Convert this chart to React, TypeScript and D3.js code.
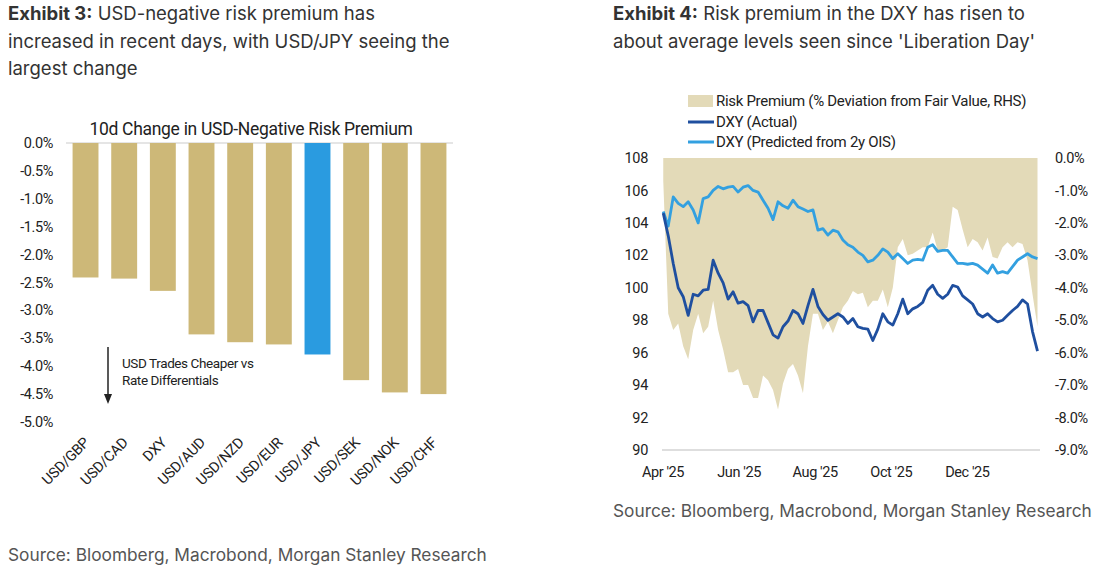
import React from 'react';
import * as d3 from 'd3';

// ---- Exhibit 3 data ----
const pairs = ['USD/GBP', 'USD/CAD', 'DXY', 'USD/AUD', 'USD/NZD', 'USD/EUR', 'USD/JPY', 'USD/SEK', 'USD/NOK', 'USD/CHF'];
const change10d = [-2.41, -2.43, -2.65, -3.43, -3.57, -3.61, -3.79, -4.25, -4.47, -4.5];
const highlightPair = 'USD/JPY';
const pctTicks = [0, -0.5, -1, -1.5, -2, -2.5, -3, -3.5, -4, -4.5, -5];

// ---- Exhibit 4 data (one reading every 4 days from 2 Apr 2025) ----
const seriesStart = new Date(2025, 3, 2);
const stepDays = 4;
const dxyActual = [
  104.6, 103.2, 101.5, 100.0, 99.45, 98.3, 99.6, 99.5, 99.85, 99.9,
  101.7, 100.9, 100.3, 99.3, 99.75, 99.05, 99.15, 98.9, 97.9, 98.6,
  98.6, 97.85, 97.1, 96.9, 97.6, 97.95, 98.6, 98.4, 97.8, 98.9,
  99.9, 98.85, 98.35, 98.0, 98.2, 98.4, 98.2, 97.8, 98.1, 97.6,
  97.5, 97.45, 96.75, 97.45, 98.4, 97.9, 97.7, 98.4, 99.3, 98.4,
  98.7, 98.85, 99.1, 99.85, 100.15, 99.6, 99.35, 99.6, 100.15, 100.05,
  99.5, 99.25, 99.0, 98.4, 98.2, 98.4, 98.1, 97.9, 98.0, 98.3,
  98.6, 98.85, 99.25, 99.0, 97.3, 96.1,
];
const dxyPredicted = [
  104.7, 103.8, 105.6, 105.2, 105.0, 105.3, 104.8, 104.0, 105.5, 105.6,
  106.0, 106.25, 106.1, 106.2, 106.25, 105.9, 106.2, 106.3, 106.0, 105.9,
  105.4, 104.9, 104.2, 105.3, 105.05, 104.9, 105.4, 105.0, 104.85, 104.7,
  104.8, 103.55, 103.65, 103.25, 103.55, 103.45, 102.95, 102.65, 102.5, 102.2,
  102.0, 101.6, 101.7, 102.0, 102.4, 102.2, 101.8, 102.1, 101.8, 101.5,
  101.7, 101.75, 101.7, 102.5, 102.65, 102.25, 102.3, 102.3, 101.9, 101.5,
  101.5, 101.45, 101.5, 101.4, 101.15, 100.9, 101.4, 100.9, 101.0, 100.9,
  101.3, 101.7, 101.9, 102.1, 101.9, 101.8,
];
const riskPremium = [
  -0.7, -4.8, -5.3, -5.1, -5.8, -6.2, -5.3, -4.8, -5.4, -5.2,
  -4.4, -5.3, -5.9, -6.6, -6.6, -6.5, -7.0, -7.0, -7.4, -7.4,
  -6.7, -6.85, -7.15, -7.75, -6.95, -6.5, -6.35, -6.7, -7.25, -5.8,
  -4.8, -4.8, -5.3, -5.05, -5.4, -5.0, -4.6, -4.4, -4.1, -4.2,
  -4.15, -4.6, -4.4, -4.4, -4.05, -4.6, -4.0, -2.75, -2.5, -3.0,
  -2.95, -2.85, -2.75, -2.75, -2.3, -2.85, -2.85, -2.75, -1.5, -1.6,
  -2.2, -2.75, -2.5, -2.6, -2.85, -2.45, -3.05, -3.1, -2.75, -2.6,
  -2.75, -2.6, -2.65, -3.15, -4.2, -5.2,
];
const dxyTicks = [108, 106, 104, 102, 100, 98, 96, 94, 92, 90];
const premiumTicks = [0, -1, -2, -3, -4, -5, -6, -7, -8, -9];
const monthTicks = [new Date(2025, 3, 1), new Date(2025, 5, 1), new Date(2025, 7, 1), new Date(2025, 9, 1), new Date(2025, 11, 1)];
const legendItems = ['Risk Premium (% Deviation from Fair Value, RHS)', 'DXY (Actual)', 'DXY (Predicted from 2y OIS)'];

const GOLD = '#cdb878';
const JPY_BLUE = '#2a9be0';
const AREA = '#e3dab8';
const DARK = '#1f4f9f';
const LIGHT = '#33a0e0';
const HEAD = "Inter, 'Noto Sans', sans-serif";
const CHART = "Roboto, 'Liberation Sans', sans-serif";

const pct = (v: number) => `${v.toFixed(1)}%`;

function Headline({ x, lines }: { x: number; lines: React.ReactNode[] }) {
  return (
    <text x={x} y={20} fontFamily={HEAD} fontSize={18.5} fill="#333">
      {lines.map((l, i) => (
        <tspan key={i} x={x} y={20 + i * 27.5}>{l}</tspan>
      ))}
    </text>
  );
}

function BarChart() {
  const x = d3.scaleBand<string>().domain(pairs).range([66, 453]).paddingInner(0.33).paddingOuter(0.17);
  const y = d3.scaleLinear().domain([-5, 0]).range([422, 143]);
  return (
    <g fontFamily={CHART} fill="#222">
      <text x={251} y={135} textAnchor="middle" fontSize={17.5} letterSpacing={-0.3}>
        10d Change in USD-Negative Risk Premium
      </text>
      <line x1={66} x2={453} y1={y(0)} y2={y(0)} stroke="#dcdcdc" strokeWidth={1.5} />
      {pairs.map((p, i) => (
        <rect key={p} x={x(p)} y={y(0)} width={x.bandwidth()} height={y(change10d[i]) - y(0)}
          fill={p === highlightPair ? JPY_BLUE : GOLD} />
      ))}
      {pctTicks.map(t => (
        <text key={t} x={53} y={y(t)} dy="0.35em" textAnchor="end" fontSize={14.5} letterSpacing={-0.4}>{pct(t)}</text>
      ))}
      {pairs.map(p => {
        const cx = (x(p) as number) + x.bandwidth() / 2;
        return (
          <text key={p} transform={`translate(${cx + 1},${440}) rotate(-45)`} textAnchor="end" dy="0.35em"
            fontSize={14.5} letterSpacing={-0.3}>{p}</text>
        );
      })}
      <line x1={108} x2={108} y1={347} y2={396} stroke="#222" strokeWidth={1.5} />
      <path d="M104,394 L108,404 L112,394 Z" fill="#222" />
      <text x={122} y={368} fontSize={13.5} letterSpacing={-0.4}>USD Trades Cheaper vs</text>
      <text x={122} y={385} fontSize={13.5} letterSpacing={-0.4}>Rate Differentials</text>
    </g>
  );
}

function LineChart() {
  const dates = dxyActual.map((_, i) => d3.timeDay.offset(seriesStart, i * stepDays));
  const x = d3.scaleTime().domain([new Date(2025, 3, 1), new Date(2026, 0, 29)]).range([662, 1040]);
  const yL = d3.scaleLinear().domain([90, 108]).range([450, 158]);
  const yR = d3.scaleLinear().domain([-9, 0]).range([450, 158]);
  const area = d3.area<number>().x((_, i) => x(dates[i])).y0(yR(0)).y1(d => yR(d));
  const line = d3.line<number>().x((_, i) => x(dates[i])).y(d => yL(d));
  const fmt = d3.timeFormat("%b '%y");
  return (
    <g fontFamily={CHART} fill="#222">
      <path d={area(riskPremium) ?? ''} fill={AREA} />
      <line x1={662} x2={1040} y1={450} y2={450} stroke="#dedede" strokeWidth={2} />
      <path d={line(dxyPredicted) ?? ''} fill="none" stroke={LIGHT} strokeWidth={2.8} strokeLinejoin="round" />
      <path d={line(dxyActual) ?? ''} fill="none" stroke={DARK} strokeWidth={2.8} strokeLinejoin="round" />
      {dxyTicks.map(t => (
        <text key={t} x={648} y={yL(t)} dy="0.35em" textAnchor="end" fontSize={14.5} letterSpacing={-0.3}>{t}</text>
      ))}
      {premiumTicks.map(t => (
        <text key={t} x={1055} y={yR(t)} dy="0.35em" fontSize={14.5} letterSpacing={-0.4}>{pct(t)}</text>
      ))}
      {monthTicks.map(d => (
        <text key={+d} x={x(d) + 1} y={472} dy="0.35em" textAnchor="middle" fontSize={14.5} letterSpacing={-0.4}>{fmt(d)}</text>
      ))}
      <rect x={688} y={95} width={25} height={12} fill={AREA} />
      <line x1={688} x2={714} y1={122} y2={122} stroke={DARK} strokeWidth={3} />
      <line x1={688} x2={714} y1={142} y2={142} stroke={LIGHT} strokeWidth={3} />
      {legendItems.map((s, i) => (
        <text key={s} x={716} y={101 + i * 20.5} dy="0.35em" fontSize={15} letterSpacing={-0.3}>{s}</text>
      ))}
    </g>
  );
}

export default function App() {
  return (
    <div style={{ position: 'absolute', left: 0, top: 0 }}>
      <svg width={1108} height={571} style={{ display: 'block', background: '#fff' }}>
        <Headline x={8} lines={[
          <><tspan fontWeight={700}>Exhibit 3:</tspan> USD-negative risk premium has</>,
          'increased in recent days, with USD/JPY seeing the',
          'largest change',
        ]} />
        <Headline x={613} lines={[
          <><tspan fontWeight={700}>Exhibit 4:</tspan> Risk premium in the DXY has risen to</>,
          "about average levels seen since 'Liberation Day'",
        ]} />
        <BarChart />
        <LineChart />
        <text x={8} y={561} fontFamily={HEAD} fontSize={17.3} fill="#555">Source: Bloomberg, Macrobond, Morgan Stanley Research</text>
        <text x={613} y={517} fontFamily={HEAD} fontSize={17.3} fill="#555">Source: Bloomberg, Macrobond, Morgan Stanley Research</text>
      </svg>
    </div>
  );
}
